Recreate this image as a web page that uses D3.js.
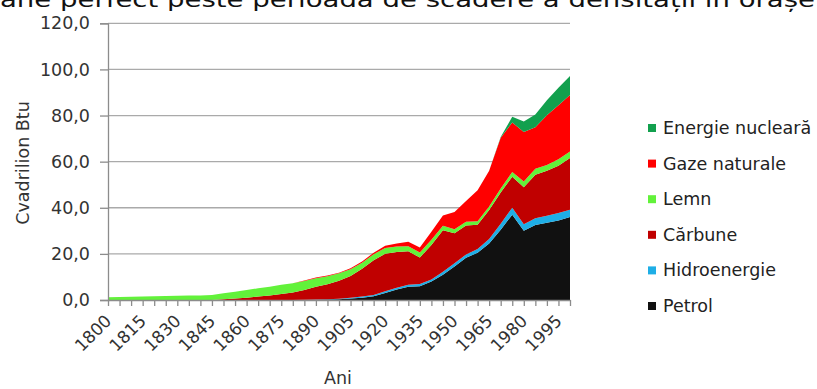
<!DOCTYPE html>
<html>
<head>
<meta charset="utf-8">
<script src="https://cdn.jsdelivr.net/npm/d3@7"></script>
<style>
  html, body { margin: 0; padding: 0; background: #fff; }
  svg { display: block; font-family: "DejaVu Sans", Verdana, sans-serif; }
</style>
</head>
<body>
<svg id="chart" width="817" height="389"></svg>
<script>
// US energy consumption by source, quadrillion Btu, every five years
const years = d3.range(1800, 2001, 5);
const xLabels = ["1800","1815","1830","1845","1860","1875","1890","1905","1920","1935","1950","1965","1980","1995"];
const yTicks = [0, 20, 40, 60, 80, 100, 120];

const petrol = [0,0,0,0,0,0,0,0,0,0,0,0,0,0,0,0,0.05,0.1,0.15,0.2,0.3,0.6,1.0,1.6,3.0,4.5,5.8,6.0,8.0,11.0,14.5,18.3,20.5,24.5,30.5,37.0,30.0,32.5,33.5,34.5,36.0];
const hidro  = [0,0,0,0,0,0,0,0,0,0,0,0,0,0,0,0,0,0,0.05,0.1,0.25,0.35,0.5,0.6,0.75,0.8,0.8,0.9,0.9,1.2,1.4,1.4,1.6,2.0,2.6,3.0,2.9,2.9,3.0,3.2,3.1];
const carbune= [0,0,0,0,0,0,0,0,0,0,0.3,0.6,1.0,1.5,2.0,2.6,3.2,4.2,5.5,6.5,7.8,9.5,12.0,15.0,16.3,15.5,14.5,11.5,15.0,18.0,13.0,12.6,10.5,12.5,13.5,13.5,16.0,18.9,19.5,20.5,22.5];
const lemn   = [1.2,1.3,1.4,1.5,1.6,1.7,1.8,1.9,2.0,2.2,2.6,3.0,3.3,3.6,3.8,4.0,4.0,3.9,3.7,3.5,3.2,2.9,2.7,2.6,2.5,2.4,2.2,2.2,2.2,2.0,1.8,1.6,1.5,1.5,1.8,2.0,2.5,2.6,2.6,2.8,2.8];
const gaze   = [0,0,0,0,0,0,0,0,0,0,0,0,0,0,0,0,0,0.3,0.4,0.3,0.3,0.4,0.5,0.7,1.0,1.3,2.0,2.2,3.5,4.5,7.5,9.0,13.5,15.5,22.0,21.5,21.5,18.0,21.5,23.5,24.5];
const nucleara=[0,0,0,0,0,0,0,0,0,0,0,0,0,0,0,0,0,0,0,0,0,0,0,0,0,0,0,0,0,0,0,0,0,0,0.3,2.5,4.5,5.5,6.5,7.5,8.2];

const seriesNames = ["Petrol","Hidroenergie","Cărbune","Lemn","Gaze naturale","Energie nucleară"];
const seriesValues = [petrol, hidro, carbune, lemn, gaze, nucleara];
const seriesColors = ["#111111","#1eaee6","#c00000","#62f23a","#ff0000","#12a04e"];

const rows = years.map((yr, i) => {
  const r = { year: yr };
  seriesNames.forEach((n, j) => r[n] = seriesValues[j][i]);
  return r;
});

const svg = d3.select("#chart");
const plotLeft = 108, plotRight = 570, plotTop = 23.3, plotBottom = 300;

const x = d3.scalePoint().domain(years).range([plotLeft, plotRight]);
const y = d3.scaleLinear().domain([0, 120]).range([plotBottom, plotTop]);

// partially visible caption line at the very top
svg.append("text")
  .attr("x", 0).attr("y", 6.5)
  .attr("font-size", 21).attr("fill", "#111")
  .attr("textLength", 815).attr("lengthAdjust", "spacingAndGlyphs")
  .text("ane perfect peste perioada de scădere a densității în orașe");

// horizontal gridlines
svg.append("g").selectAll("line")
  .data(yTicks.filter(d => d > 0))
  .join("line")
  .attr("x1", plotLeft).attr("x2", plotRight)
  .attr("y1", d => y(d)).attr("y2", d => y(d))
  .attr("stroke", "#aaaaaa").attr("stroke-width", 1.3);

// stacked areas
const stack = d3.stack().keys(seriesNames);
const layers = stack(rows);
const area = d3.area()
  .x(d => x(d.data.year))
  .y0(d => y(d[0]))
  .y1(d => y(d[1]));

svg.append("g").selectAll("path")
  .data(layers)
  .join("path")
  .attr("d", area)
  .attr("fill", (d, i) => seriesColors[i]);

// y axis
const yAxis = d3.axisLeft(y)
  .tickValues(yTicks)
  .tickSize(8)
  .tickPadding(10)
  .tickFormat(d => d3.format(".1f")(d).replace(".", ","));
const gy = svg.append("g").attr("transform", `translate(${plotLeft},0)`).call(yAxis);
gy.select(".domain").attr("stroke", "#8c8c8c").attr("stroke-width", 1.3);
gy.selectAll(".tick line").attr("stroke", "#8c8c8c").attr("stroke-width", 1.3);
gy.selectAll("text").attr("font-size", 17.5).attr("fill", "#333").attr("font-family", "DejaVu Sans");

// x axis
const xAxis = d3.axisBottom(x)
  .tickSize(6)
  .tickSizeOuter(0)
  .tickFormat(d => xLabels.includes(String(d)) ? String(d) : "");
const gx = svg.append("g").attr("transform", `translate(0,${plotBottom})`).call(xAxis);
gx.select(".domain").attr("stroke", "#8c8c8c").attr("stroke-width", 1.3);
gx.selectAll(".tick line").attr("stroke", "#8c8c8c").attr("stroke-width", 1.3);
gx.selectAll("text")
  .attr("font-size", 17).attr("fill", "#333").attr("font-family", "DejaVu Sans")
  .attr("text-anchor", "end")
  .attr("x", 0).attr("y", 0).attr("dy", 0)
  .attr("transform", "translate(4,22) rotate(-45)");

// axis titles
svg.append("text")
  .attr("transform", "translate(29,163) rotate(-90)")
  .attr("text-anchor", "middle")
  .attr("font-size", 17.5).attr("fill", "#333")
  .text("Cvadrilion Btu");

svg.append("text")
  .attr("x", 338).attr("y", 384)
  .attr("text-anchor", "middle")
  .attr("font-size", 17.5).attr("fill", "#333")
  .text("Ani");

// legend, top entry is the top layer
const legendItems = seriesNames.map((n, i) => ({ name: n, color: seriesColors[i] })).reverse();
const lg = svg.append("g").attr("transform", "translate(648,128)");
const li = lg.selectAll("g").data(legendItems).join("g")
  .attr("transform", (d, i) => `translate(0,${i * 35.6})`);
li.append("rect")
  .attr("x", 0).attr("y", -4).attr("width", 8).attr("height", 8)
  .attr("fill", d => d.color);
li.append("text")
  .attr("x", 15).attr("y", 6)
  .attr("font-size", 17.5).attr("fill", "#222")
  .text(d => d.name);
</script>
</body>
</html>
